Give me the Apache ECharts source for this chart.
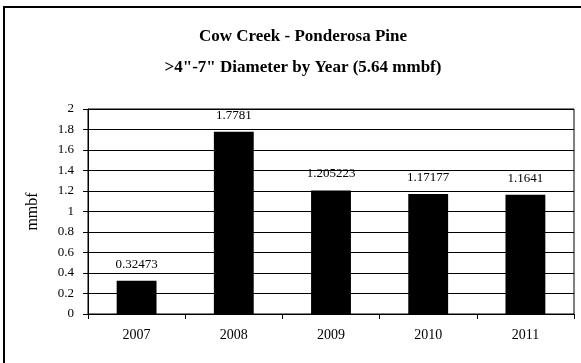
<!DOCTYPE html>
<html>
<head>
<meta charset="utf-8">
<script src="https://cdn.jsdelivr.net/npm/echarts@6/dist/echarts.min.js"></script>
<style>
html,body{margin:0;padding:0;background:#fff;}
#chart{width:581px;height:363px;}
</style>
</head>
<body>
<div id="chart"></div>
<script>
var categories = ['2007', '2008', '2009', '2010', '2011'];
var values = [0.32473, 1.7781, 1.205223, 1.17177, 1.1641];
var yTicks = [0, 0.2, 0.4, 0.6, 0.8, 1, 1.2, 1.4, 1.6, 1.8, 2];
var titleLines = ['Cow Creek - Ponderosa Pine', '>4"-7" Diameter by Year (5.64 mmbf)'];
var yAxisName = 'mmbf';

var serif = '"Liberation Serif", "Times New Roman", serif';
var chart = echarts.init(document.getElementById('chart'), null, {renderer: 'canvas'});
chart.setOption({
  animation: false,
  backgroundColor: '#fff',
  title: {
    text: titleLines.join('\n'),
    left: 298,
    textAlign: 'center',
    top: 16,
    textStyle: {fontFamily: serif, fontWeight: 'bold', fontSize: 17, color: '#000', lineHeight: 31}
  },
  graphic: [{
    type: 'rect',
    shape: {x: 4, y: 7, width: 640, height: 420},
    style: {fill: 'none', stroke: '#000', lineWidth: 2},
    z: 100
  }],
  grid: {left: 88, right: 7, top: 109, bottom: 49, show: true, borderColor: '#000', borderWidth: 1, backgroundColor: 'transparent'},
  xAxis: {
    type: 'category',
    data: categories,
    boundaryGap: true,
    axisLine: {lineStyle: {color: '#000', width: 1}},
    axisTick: {show: true, inside: false, length: 5, lineStyle: {color: '#000'}},
    axisLabel: {fontFamily: serif, fontSize: 14, color: '#000', margin: 14}
  },
  yAxis: {
    type: 'value',
    min: 0, max: 2, interval: 0.2,
    name: yAxisName,
    nameLocation: 'middle',
    nameGap: 47,
    nameRotate: 90,
    nameTextStyle: {fontFamily: serif, fontSize: 16, color: '#000'},
    axisLine: {show: true, lineStyle: {color: '#000', width: 1}},
    axisTick: {show: true, length: 5, lineStyle: {color: '#000'}},
    splitLine: {show: true, lineStyle: {color: '#000', width: 1}},
    axisLabel: {fontFamily: serif, fontSize: 13, color: '#000', margin: 14,
      formatter: function (v) { return String(parseFloat(v.toFixed(1))); }}
  },
  series: [{
    type: 'bar',
    data: values,
    barWidth: '41%',
    itemStyle: {color: '#000'},
    label: {show: true, position: 'top', distance: 10, fontFamily: serif, fontSize: 13, color: '#000',
      formatter: function (p) { return String(p.value); }}
  }]
});
</script>
</body>
</html>
